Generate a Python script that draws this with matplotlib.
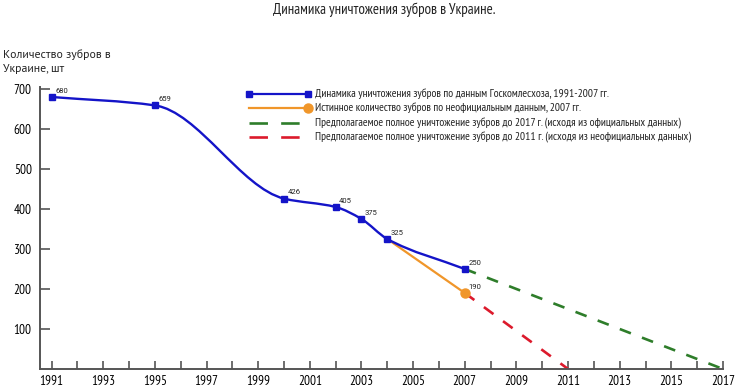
import matplotlib
matplotlib.use("Agg")
import matplotlib.pyplot as plt
from matplotlib.path import Path
from matplotlib.patches import PathPatch
import numpy as np

# official data (Goskomleskhoz)
years_off = [1991, 1995, 2000, 2002, 2003, 2004, 2007]
count_off = [680, 659, 426, 405, 375, 325, 250]
# unofficial estimate
years_real = [2004, 2007]
count_real = [325, 190]
# forecasts to zero
fc_off_years = [2007, 2017]
fc_off = [250, 0]
fc_real_years = [2007, 2011]
fc_real = [190, 0]

year_ticks = list(range(1991, 2018))
year_labels = [str(y) if y % 2 == 1 else "" for y in year_ticks]
y_ticks = [100, 200, 300, 400, 500, 600, 700]

legend_labels = [
    "Динамика уничтожения зубров по данным Госкомлесхоза, 1991-2007 гг.",
    "Истинное количество зубров по неофициальным данным, 2007 гг.",
    "Предполагаемое полное уничтожение зубров до 2017 г. (исходя из официальных данных)",
    "Предполагаемое полное уничтожение зубров до 2011 г. (исходя из неофициальных данных)",
]

BLUE = "#1414c8"
ORANGE = "#f0962a"
GREEN = "#2e7d2a"
RED = "#dc1a2c"
NARROW = ["PT Sans Narrow", "Roboto Condensed", "Fira Sans Condensed", "DejaVu Sans"]
REG = ["PT Sans", "Open Sans", "DejaVu Sans"]
SMALL = ["Roboto", "DejaVu Sans"]


def smooth_path(x, y):
    # monotone cubic (Fritsch-Carlson) tangents -> bezier control points
    x = np.asarray(x, float)
    y = np.asarray(y, float)
    h = np.diff(x)
    d = np.diff(y) / h
    m = np.zeros_like(y)
    m[0], m[-1] = d[0], d[-1]
    for i in range(1, len(x) - 1):
        if d[i - 1] * d[i] > 0:
            w1 = 2 * h[i] + h[i - 1]
            w2 = h[i] + 2 * h[i - 1]
            m[i] = (w1 + w2) / (w1 / d[i - 1] + w2 / d[i])
    verts = [(x[0], y[0])]
    codes = [Path.MOVETO]
    for i in range(len(x) - 1):
        verts += [(x[i] + h[i] / 3, y[i] + m[i] * h[i] / 3),
                  (x[i + 1] - h[i] / 3, y[i + 1] - m[i + 1] * h[i] / 3),
                  (x[i + 1], y[i + 1])]
        codes += [Path.CURVE4] * 3
    return Path(verts, codes)


fig = plt.figure(figsize=(7.35, 3.9), dpi=100)
ax = fig.add_axes([40 / 735, 21 / 390, (723 - 40) / 735, (369 - 87) / 390])

dash = (0, (4.5, 4.5))
ax.plot(fc_off_years, fc_off, color=GREEN, lw=1.9, linestyle=dash, zorder=2)
ax.plot(fc_real_years, fc_real, color=RED, lw=1.9, linestyle=dash, zorder=2)
ax.plot(years_real, count_real, color=ORANGE, lw=1.6, zorder=3)
ax.plot(years_real[-1:], count_real[-1:], "o", color=ORANGE, ms=6.5, zorder=4)

ax.add_patch(PathPatch(smooth_path(years_off, count_off), facecolor="none",
                       edgecolor=BLUE, lw=1.7, zorder=4))
ax.plot(years_off, count_off, "s", color=BLUE, ms=4.5, zorder=5)

for xv, yv in zip(years_off, count_off):
    ax.annotate(str(yv), (xv, yv), xytext=(2.5, 2.5), textcoords="offset points",
                fontsize=5.5, family=SMALL, color="#222222", ha="left", va="bottom")
ax.annotate(str(count_real[-1]), (years_real[-1], count_real[-1]), xytext=(2.5, 2.5),
            textcoords="offset points", fontsize=5.5, family=SMALL,
            color="#222222", ha="left", va="bottom")

ax.set_xlim(1990.55, 2017.0)
ax.set_ylim(0, 705)
ax.set_xticks(year_ticks)
ax.set_xticklabels(year_labels, family=NARROW, fontsize=9.5)
ax.set_yticks(y_ticks)
ax.set_yticklabels([str(v) for v in y_ticks], family=NARROW, fontsize=9.5)
ax.tick_params(axis="x", direction="in", length=6, width=1.2, color="#555555", pad=4)
ax.tick_params(axis="y", direction="in", length=7, width=1.2, color="#555555", pad=6)
for s in ["top", "right"]:
    ax.spines[s].set_visible(False)
for s in ["left", "bottom"]:
    ax.spines[s].set_color("#555555")
    ax.spines[s].set_linewidth(1.4)
ax.patch.set_alpha(0)

fig.text(384 / 735, 1 - 10 / 390, "Динамика уничтожения зубров в Украине.",
         ha="center", va="center", family=NARROW, fontsize=10.7, color="#222222")
fig.text(3 / 735, 1 - 49 / 390, "Количество зубров в\nУкраине, шт", ha="left",
         va="top", family=REG, fontsize=8.5, color="#222222", linespacing=1.5)

# legend drawn by hand
rows = [94, 108, 123, 137]
hx = [249 / 735, 308 / 735]
for r, lab in zip(rows, legend_labels):
    fy = 1 - r / 390
    fig.text(315 / 735, fy, lab, ha="left", va="center", family=NARROW,
             fontsize=8.25, color="#222222")
ly = [1 - rows[0] / 390] * 2
fig.add_artist(plt.Line2D(hx, ly, color=BLUE, lw=1.6, marker="s", ms=4.5,
                          transform=fig.transFigure))
ly = [1 - rows[1] / 390] * 2
fig.add_artist(plt.Line2D(hx, ly, color=ORANGE, lw=1.6, transform=fig.transFigure))
fig.add_artist(plt.Line2D(hx[1:], ly[1:], color=ORANGE, marker="o", ms=6.5,
                          transform=fig.transFigure))
ly = [1 - rows[2] / 390] * 2
fig.add_artist(plt.Line2D(hx, ly, color=GREEN, lw=1.9, linestyle=(0, (7, 5)),
                          transform=fig.transFigure))
ly = [1 - rows[3] / 390] * 2
fig.add_artist(plt.Line2D(hx, ly, color=RED, lw=1.9, linestyle=(0, (7, 5)),
                          transform=fig.transFigure))

fig.savefig("out.png", dpi=100)
